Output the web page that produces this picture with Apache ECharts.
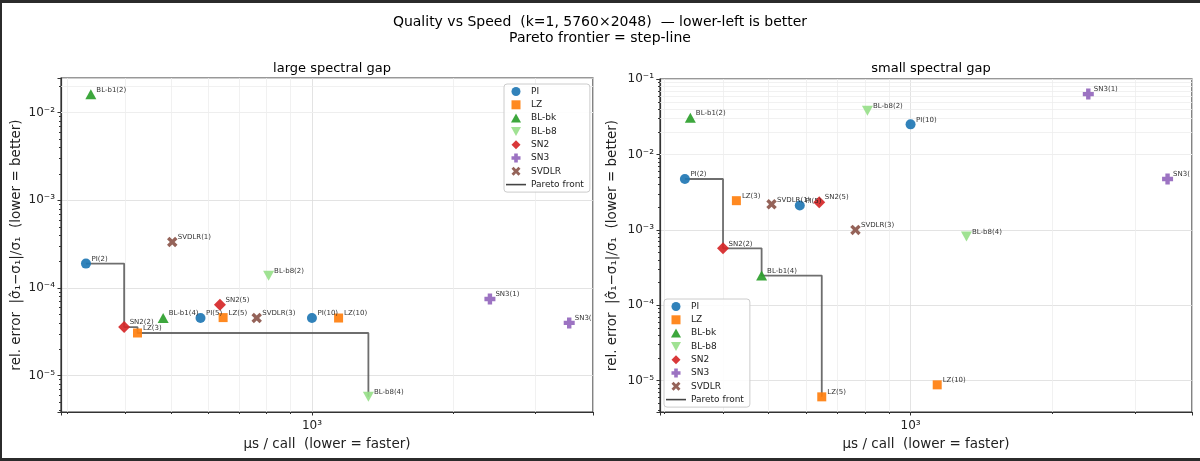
<!DOCTYPE html>
<html>
<head>
<meta charset="utf-8">
<script src="https://cdn.jsdelivr.net/npm/echarts@6/dist/echarts.min.js"></script>
<style>
  html, body { margin: 0; padding: 0; background: #fff; }
  #main { position: absolute; left: 0; top: 0; width: 1200px; height: 461px; }
  #frame { position: absolute; left: 0; top: 0; width: 1200px; height: 461px; box-sizing: border-box;
           border-left: 2px solid #2b2b2b; border-top: 3px solid #2b2b2b; border-bottom: 3px solid #2b2b2b;
           pointer-events: none; }
</style>
</head>
<body>
<div id="main"></div>
<div id="frame"></div>
<script>
var FONT = 'DejaVu Sans';

// methods in legend order
var methods = ['PI', 'LZ', 'BL-bk', 'BL-b8', 'SN2', 'SN3', 'SVDLR'];

// large spectral gap : [µs per call, rel. error, tag]
var largePI    = [[329, 1.9e-4, 'PI(2)'], [578, 4.55e-5, 'PI(5)'], [1000, 4.55e-5, 'PI(10)']];
var largeLZ    = [[424, 3.07e-5, 'LZ(3)'], [646, 4.6e-5, 'LZ(5)'], [1140, 4.55e-5, 'LZ(10)']];
var largeBLbk  = [[337, 0.0162, 'BL-b1(2)'], [481, 4.55e-5, 'BL-b1(4)']];
var largeBLb8  = [[808, 1.38e-4, 'BL-b8(2)'], [1320, 5.75e-6, 'BL-b8(4)']];
var largeSN2   = [[397, 3.59e-5, 'SN2(2)'], [636, 6.45e-5, 'SN2(5)']];
var largeSN3   = [[2400, 7.5e-5, 'SN3(1)'], [3545, 4.0e-5, 'SN3(2)']];
var largeSVDLR = [[503, 3.35e-4, 'SVDLR(1)'], [762, 4.55e-5, 'SVDLR(3)']];

// small spectral gap
var smallPI    = [[332, 4.73e-3, 'PI(2)'], [582, 2.1e-3, 'PI(5)'], [1000, 0.0251, 'PI(10)']];
var smallLZ    = [[427, 2.44e-3, 'LZ(3)'], [648, 6.1e-6, 'LZ(5)'], [1139, 8.8e-6, 'LZ(10)']];
var smallBLbk  = [[341, 0.0307, 'BL-b1(2)'], [483, 2.48e-4, 'BL-b1(4)']];
var smallBLb8  = [[810, 0.038, 'BL-b8(2)'], [1314, 8.15e-4, 'BL-b8(4)']];
var smallSN2   = [[400, 5.7e-4, 'SN2(2)'], [640, 2.33e-3, 'SN2(5)']];
var smallSN3   = [[2383, 0.0632, 'SN3(1)'], [3510, 4.73e-3, 'SN3(2)']];
var smallSVDLR = [[507, 2.19e-3, 'SVDLR(1)'], [764, 1.0e-3, 'SVDLR(3)']];

var largeGap = [largePI, largeLZ, largeBLbk, largeBLb8, largeSN2, largeSN3, largeSVDLR];
var smallGap = [smallPI, smallLZ, smallBLbk, smallBLb8, smallSN2, smallSN3, smallSVDLR];

// minor grid values (log axes)
var xMinor = [300, 400, 500, 600, 700, 800, 900, 2000, 3000];
var yMinorFactors = [2, 3, 4, 5, 6, 7, 8, 9];
var yDecades = [-6, -5, -4, -3, -2, -1];

// tags whose label runs into the right spine and gets cut
var clippedTags = ['SN3(2)'];

var colors = ['#1f77b4', '#ff7f0e', '#2ca02c', '#98df8a', '#d62728', '#9467bd', '#8c564b'];
var symbols = [
  'circle',
  'path://M0,0H10V10H0Z',
  'path://M5,0L10,9L0,9Z',
  'path://M0,0L10,0L5,9Z',
  'path://M5,0L10,5L5,10L0,5Z',
  'path://M3,0H7V3H10V7H7V10H3V7H0V3H3Z',
  'path://M2.3,0L5,2.7L7.7,0L10,2.3L7.3,5L10,7.7L7.7,10L5,7.3L2.3,10L0,7.7L2.7,5L0,2.3Z'
];
var sizes = [[10, 10], [9, 9], [11, 10], [11, 10], [12, 12], [11, 11], [10.5, 10.5]];

var SUP = { '-': '\u207b', '0': '\u2070', '1': '\u00b9', '2': '\u00b2', '3': '\u00b3',
            '4': '\u2074', '5': '\u2075', '6': '\u2076', '7': '\u2077', '8': '\u2078', '9': '\u2079' };
function powLabel(v) {
  var e = Math.log10(v), r = Math.round(e);
  if (Math.abs(e - r) > 1e-6) return '';
  return '10' + String(r).split('').map(function (c) { return SUP[c]; }).join('');
}

function paretoFront(groups) {
  var all = [].concat.apply([], groups).slice().sort(function (a, b) { return a[0] - b[0]; });
  var front = [], best = Infinity;
  all.forEach(function (d) {
    if (d[1] < best) { best = d[1]; front.push([d[0], d[1]]); }
  });
  return front;
}

var panels = [
  { groups: largeGap, title: 'large spectral gap', grid: { left: 61, top: 78, width: 532, height: 334 },
    x: [291, 3985], y: [3.855e-6, 0.02487], yNameGap: 38, legend: { left: 504, top: 84 } },
  { groups: smallGap, title: 'small spectral gap', grid: { left: 660, top: 79, width: 532, height: 333 },
    x: [294, 3955], y: [3.84e-6, 0.1003], yNameGap: 41, legend: { left: 664, top: 299 } }
];

var grids = [], xAxes = [], yAxes = [], series = [], titles = [], legends = [];

titles.push({
  text: 'Quality vs Speed  (k=1, 5760\u00d72048)  \u2014 lower-left is better',
  subtext: 'Pareto frontier = step-line',
  left: 'center', top: 10, itemGap: 2,
  textStyle: { fontSize: 14, fontWeight: 'normal', color: '#000', fontFamily: FONT },
  subtextStyle: { fontSize: 14, color: '#000', fontFamily: FONT }
});

var legendData = methods.map(function (m, i) { return { name: m, icon: symbols[i] }; })
  .concat([{ name: 'Pareto front', icon: 'path://M0,0H20V1.6H0Z' }]);

panels.forEach(function (p, k) {
  grids.push(Object.assign({ show: true, borderColor: '#333', borderWidth: 1.2, backgroundColor: 'transparent',
    containLabel: false, outerBoundsMode: 'none' }, p.grid));

  titles.push({
    text: p.title, left: p.grid.left + p.grid.width / 2, top: 57, textAlign: 'center',
    textStyle: { fontSize: 13, fontWeight: 'normal', color: '#000', fontFamily: FONT }
  });

  xAxes.push({
    type: 'log', logBase: 10, gridIndex: k, min: p.x[0], max: p.x[1],
    axisLine: { show: true, lineStyle: { color: '#333', width: 1.2 } },
    axisTick: { show: true, length: 3.5, lineStyle: { color: '#333' } },
    minorTick: { show: true, splitNumber: 9, length: 2, lineStyle: { color: '#333' } },
    axisLabel: { formatter: powLabel, fontSize: 12, color: '#222', margin: 8, fontFamily: FONT },
    splitLine: { show: true, lineStyle: { color: '#dcdcdc', width: 0.8 } },
    name: '\u00b5s / call  (lower = faster)', nameLocation: 'middle', nameGap: 25,
    nameTextStyle: { fontSize: 13.5, color: '#222', fontFamily: FONT }
  });

  yAxes.push({
    type: 'log', logBase: 10, gridIndex: k, min: p.y[0], max: p.y[1],
    axisLine: { show: true, lineStyle: { color: '#333', width: 1.2 } },
    axisTick: { show: true, length: 3.5, lineStyle: { color: '#333' } },
    minorTick: { show: true, splitNumber: 9, length: 2, lineStyle: { color: '#333' } },
    axisLabel: { formatter: powLabel, fontSize: 12, color: '#222', margin: 6, fontFamily: FONT },
    splitLine: { show: true, lineStyle: { color: '#dcdcdc', width: 0.8 } },
    name: 'rel. error  |\u03c3\u0302\u2081\u2212\u03c3\u2081|/\u03c3\u2081  (lower = better)',
    nameLocation: 'middle', nameGap: p.yNameGap,
    nameTextStyle: { fontSize: 13.5, color: '#222', fontFamily: FONT }
  });

  // minor grid lines through the axes' own scales
  var minorLines = [];
  xMinor.forEach(function (v) { if (v > p.x[0] && v < p.x[1]) minorLines.push({ xAxis: v }); });
  yDecades.forEach(function (d) {
    yMinorFactors.forEach(function (f) {
      var v = f * Math.pow(10, d);
      if (v > p.y[0] && v < p.y[1]) minorLines.push({ yAxis: v });
    });
  });

  series.push({
    type: 'line', name: 'Pareto front', xAxisIndex: k, yAxisIndex: k,
    step: 'end', data: paretoFront(p.groups), showSymbol: false, symbol: 'none',
    lineStyle: { color: '#555', width: 1.8, opacity: 0.85 },
    itemStyle: { color: '#444' },
    z: 2, silent: true,
    markLine: {
      silent: true, symbol: ['none', 'none'], animation: false, z: 1,
      label: { show: false },
      lineStyle: { type: 'solid', color: '#eeeeee', width: 0.8 },
      emphasis: { disabled: true },
      data: minorLines
    }
  });

  methods.forEach(function (m, i) {
    var s = sizes[i];
    series.push({
      type: 'scatter', name: m, xAxisIndex: k, yAxisIndex: k,
      symbol: symbols[i], symbolSize: s,
      itemStyle: { color: colors[i], opacity: 0.92 },
      data: p.groups[i].map(function (d) {
        var item = { value: [d[0], d[1]], name: d[2] };
        if (clippedTags.indexOf(d[2]) >= 0) {
          item.label = { width: 19, overflow: 'truncate', ellipsis: '' };
        }
        return item;
      }),
      label: {
        show: true, formatter: '{b}', position: [s[0] / 2 + 5.5, s[1] / 2 - 4.5],
        align: 'left', verticalAlign: 'middle', fontSize: 7, color: '#222', fontFamily: FONT
      },
      emphasis: { disabled: true },
      z: 3
    });
  });

  legends.push({
    left: p.legend.left, top: p.legend.top, orient: 'vertical',
    data: legendData, selectedMode: false, symbolKeepAspect: true,
    itemWidth: 20, itemHeight: 9, itemGap: 4.3,
    padding: [3, 6, 3, 2],
    backgroundColor: 'rgba(255,255,255,0.85)', borderColor: '#cccccc', borderWidth: 1, borderRadius: 3,
    textStyle: { fontSize: 9, color: '#222', fontFamily: FONT, lineHeight: 9 }
  });
});

var chart = echarts.init(document.getElementById('main'));
chart.setOption({
  animation: false,
  backgroundColor: '#fff',
  textStyle: { fontFamily: FONT },
  title: titles,
  legend: legends,
  grid: grids,
  xAxis: xAxes,
  yAxis: yAxes,
  series: series
});
</script>
</body>
</html>
